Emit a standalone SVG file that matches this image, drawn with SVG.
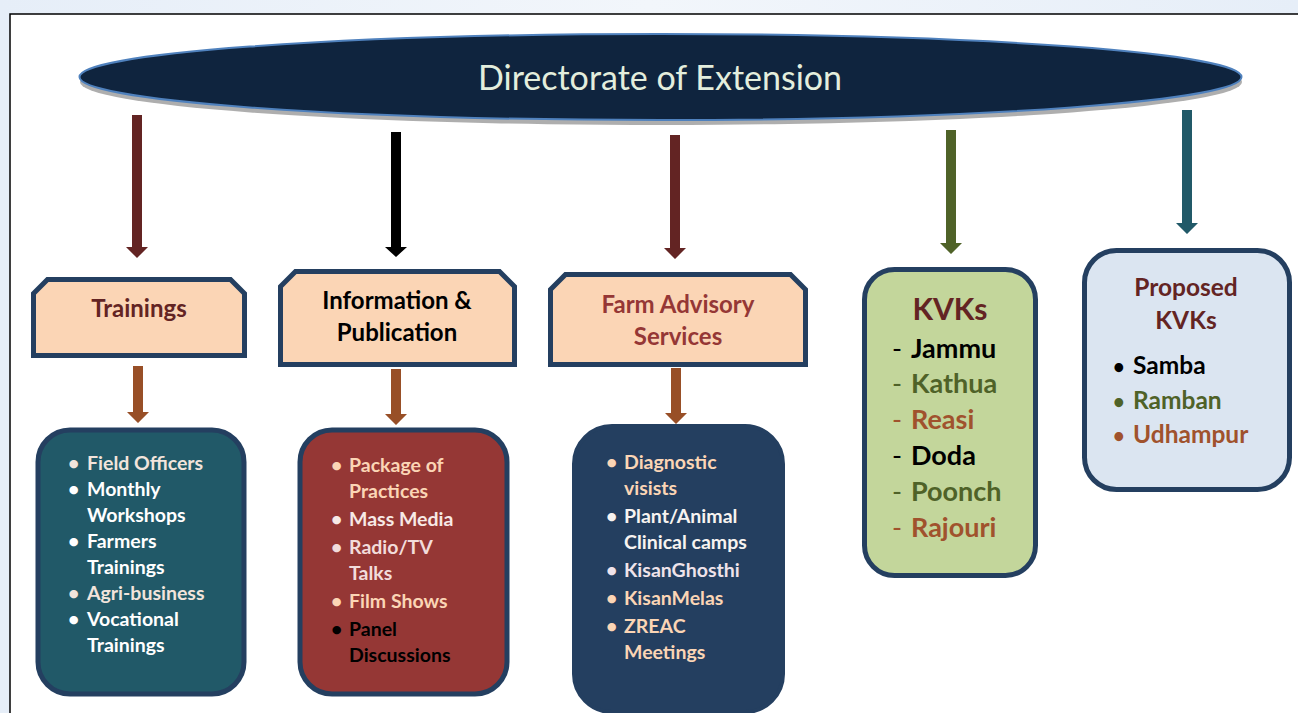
<svg xmlns="http://www.w3.org/2000/svg" width="1298" height="713" viewBox="0 0 1298 713">
<defs>
<style>
text{font-family:Lato,"Open Sans","Liberation Sans",sans-serif;font-weight:bold}
.hdr{fill:#fbd5b5;stroke:#243f60;stroke-width:5}
.box{stroke:#243f60;stroke-width:5}
.li{font-size:19.5px}
.kv{font-size:27px}
.pk{font-size:24.5px}
.c{text-anchor:middle}
</style>
<linearGradient id="bg" x1="0" y1="0" x2="1" y2="0">
<stop offset="0" stop-color="#e6eef8"/>
<stop offset="0.5" stop-color="#f2f6fb"/>
<stop offset="1" stop-color="#e6eef8"/>
</linearGradient>
</defs>
<rect x="0" y="0" width="1298" height="713" fill="url(#bg)"/>
<rect x="10" y="14" width="1288" height="699" fill="#ffffff"/>
<path d="M10,713 V14 H1298" fill="none" stroke="#000" stroke-width="1.5"/>

<g id="directorate">
<ellipse cx="661" cy="82" rx="581" ry="43" fill="#9a9a9a" opacity="0.8"/>
<ellipse cx="660.5" cy="77" rx="581" ry="43" fill="#0f243e" stroke="#4f81bd" stroke-width="2"/>
<text x="660" y="90" class="c" font-size="34" style="font-weight:normal" fill="#e3eedd">Directorate of Extension</text>
</g>

<g id="connectors">
<polygon points="132,115 142,115 142,247 148,247 137,258 126,247 132,247" fill="#632423"/>
<polygon points="391,132 401,132 401,247 407,247 396,257 385,247 391,247" fill="#000000"/>
<polygon points="670,135 680,135 680,248 686,248 675,259 664,248 670,248" fill="#632423"/>
<polygon points="946,130 956,130 956,243 962,243 951,254 940,243 946,243" fill="#4f6228"/>
<polygon points="1182,110 1192,110 1192,223 1198,223 1187,234 1176,223 1182,223" fill="#215968"/>
<polygon points="133,366 143,366 143,412 149,412 138,423 127,412 133,412" fill="#984f27"/>
<polygon points="391,369 401,369 401,414 407,414 396,425 385,414 391,414" fill="#984f27"/>
<polygon points="671,368 681,368 681,413 687,413 676,424 665,413 671,413" fill="#984f27"/>
</g>

<g id="trainings">
<path class="hdr" d="M47.5,279.5 H230.5 L244.5,293.5 V355.5 H33.5 V293.5 Z"/>
<text x="139" y="317" class="c" font-size="24" fill="#632423">Trainings</text>
</g>

<g id="information">
<path class="hdr" d="M295.5,271.5 H499.5 L514.5,286.5 V364.5 H280.5 V286.5 Z"/>
<text x="397" y="309" class="c" font-size="24" fill="#000">Information &amp;</text>
<text x="397" y="341" class="c" font-size="24" fill="#000">Publication</text>
</g>

<g id="farm-advisory">
<path class="hdr" d="M565.5,274.5 H790.5 L805.5,289.5 V364.5 H550.5 V289.5 Z"/>
<text x="678" y="313" class="c" font-size="24" fill="#953735">Farm Advisory</text>
<text x="678" y="345" class="c" font-size="24" fill="#953735">Services</text>
</g>

<g id="trainings-list">
<rect class="box" x="38" y="430" width="206" height="264" rx="32" fill="#215968"/>
<g class="li">
<text y="470" fill="#f2e4dc"><tspan x="68">•</tspan><tspan x="87">Field Officers</tspan></text>
<text y="496" fill="#ffffff"><tspan x="68">•</tspan><tspan x="87">Monthly</tspan></text>
<text x="87" y="522" fill="#ffffff">Workshops</text>
<text y="548" fill="#ffffff"><tspan x="68">•</tspan><tspan x="87">Farmers</tspan></text>
<text x="87" y="574" fill="#ffffff">Trainings</text>
<text y="600" fill="#f2e4dc"><tspan x="68">•</tspan><tspan x="87">Agri-business</tspan></text>
<text y="626" fill="#ffffff"><tspan x="68">•</tspan><tspan x="87">Vocational</tspan></text>
<text x="87" y="652" fill="#ffffff">Trainings</text>
</g>
</g>

<g id="information-list">
<rect class="box" x="300" y="430" width="207" height="264" rx="32" fill="#953735"/>
<g class="li">
<text y="472" fill="#fbd5b5"><tspan x="331">•</tspan><tspan x="349">Package of</tspan></text>
<text x="349" y="498" fill="#fbd5b5">Practices</text>
<text y="526" fill="#f7e9e6"><tspan x="331">•</tspan><tspan x="349">Mass Media</tspan></text>
<text y="554" fill="#f2dcdb"><tspan x="331">•</tspan><tspan x="349">Radio/TV</tspan></text>
<text x="349" y="580" fill="#f2dcdb">Talks</text>
<text y="608" fill="#fbd5b5"><tspan x="331">•</tspan><tspan x="349">Film Shows</tspan></text>
<text y="636" fill="#000000"><tspan x="331">•</tspan><tspan x="349">Panel</tspan></text>
<text x="349" y="662" fill="#000000">Discussions</text>
</g>
</g>

<g id="farm-list">
<rect x="574" y="426" width="209" height="286" rx="38" fill="#243f60" stroke="#243f60" stroke-width="4"/>
<g class="li">
<text y="469" fill="#fbd5b5"><tspan x="606">•</tspan><tspan x="624">Diagnostic</tspan></text>
<text x="624" y="495" fill="#fbd5b5">visists</text>
<text y="523" fill="#f7f3f0"><tspan x="606">•</tspan><tspan x="624">Plant/Animal</tspan></text>
<text x="624" y="549" fill="#f7f3f0">Clinical camps</text>
<text y="577" fill="#efe3ea"><tspan x="606">•</tspan><tspan x="624">KisanGhosthi</tspan></text>
<text y="605" fill="#fbd5b5"><tspan x="606">•</tspan><tspan x="624">KisanMelas</tspan></text>
<text y="633" fill="#fbd5b5"><tspan x="606">•</tspan><tspan x="624">ZREAC</tspan></text>
<text x="624" y="659" fill="#fbd5b5">Meetings</text>
</g>
</g>

<g id="kvks">
<rect class="box" x="864.5" y="269.5" width="171" height="306" rx="30" fill="#c3d69b"/>
<text x="950" y="320" class="c" font-size="30" fill="#632423">KVKs</text>
<g class="kv">
<text y="358" fill="#000000"><tspan x="892" style="font-weight:normal">-</tspan><tspan x="911">Jammu</tspan></text>
<text y="393" fill="#4f6228"><tspan x="892" style="font-weight:normal">-</tspan><tspan x="911">Kathua</tspan></text>
<text y="429" fill="#a0522d"><tspan x="892" style="font-weight:normal">-</tspan><tspan x="911">Reasi</tspan></text>
<text y="465" fill="#000000"><tspan x="892" style="font-weight:normal">-</tspan><tspan x="911">Doda</tspan></text>
<text y="501" fill="#4f6228"><tspan x="892" style="font-weight:normal">-</tspan><tspan x="911">Poonch</tspan></text>
<text y="537" fill="#a0522d"><tspan x="892" style="font-weight:normal">-</tspan><tspan x="911">Rajouri</tspan></text>
</g>
</g>

<g id="proposed-kvks">
<rect class="box" x="1084.5" y="250.5" width="205" height="239" rx="32" fill="#dbe5f1"/>
<text x="1186" y="296" class="c" font-size="24.5" fill="#632423">Proposed</text>
<text x="1186" y="329" class="c" font-size="24.5" fill="#632423">KVKs</text>
<g class="pk">
<text y="374" fill="#000000"><tspan x="1113" font-size="20">•</tspan><tspan x="1133">Samba</tspan></text>
<text y="409" fill="#4f6228"><tspan x="1113" font-size="20">•</tspan><tspan x="1133">Ramban</tspan></text>
<text y="443" fill="#a0522d"><tspan x="1113" font-size="20">•</tspan><tspan x="1133">Udhampur</tspan></text>
</g>
</g>
</svg>
